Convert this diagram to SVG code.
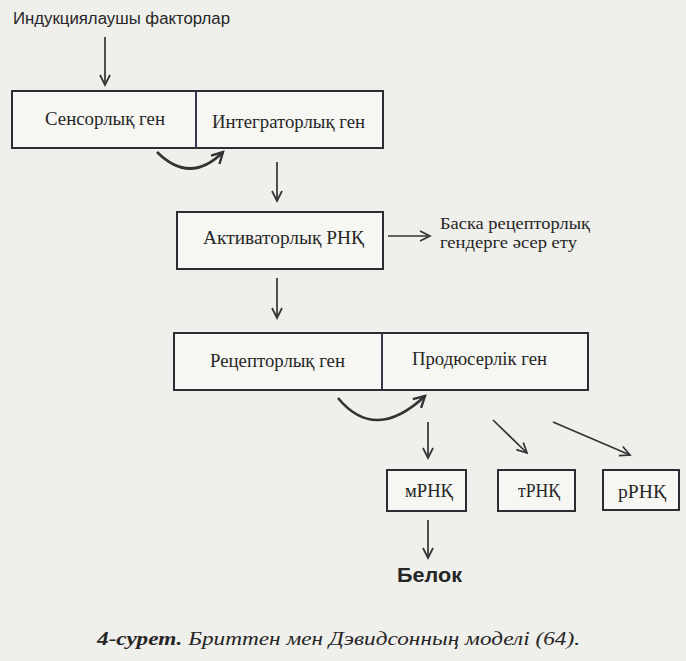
<svg xmlns="http://www.w3.org/2000/svg" width="686" height="661" viewBox="0 0 686 661">
<defs>
<style>
.bg{fill:#efefec}
.box{fill:#f6f6f3;stroke:#2e2b33;stroke-width:2}
.div{stroke:#3e3350;stroke-width:2}
.lbl{font-family:"Liberation Serif","Times New Roman",serif;font-size:18.5px;fill:#262626}
.note{font-family:"Liberation Serif","Times New Roman",serif;font-size:16.5px;fill:#262626}
.sans{font-family:"Liberation Sans",Arial,sans-serif;fill:#262626}
.cap{font-family:"Liberation Serif","Times New Roman",serif;font-style:italic;font-size:19.5px;fill:#262626}
.ln{fill:none;stroke:#333;stroke-width:1.7}
.cv{fill:none;stroke:#333;stroke-width:2.6}
</style>
<marker id="ah" markerUnits="userSpaceOnUse" markerWidth="20" markerHeight="20" refX="0" refY="0" orient="auto" overflow="visible">
<path d="M-10,-5 L0,0 L-10,5" fill="none" stroke="#333" stroke-width="1.7"/>
</marker>
<marker id="ahc" markerUnits="userSpaceOnUse" markerWidth="20" markerHeight="20" refX="0" refY="0" orient="auto" overflow="visible">
<path d="M-11,-6 L0,0 L-11,6" fill="none" stroke="#333" stroke-width="2.4"/>
</marker>
</defs>
<rect class="bg" x="0" y="0" width="686" height="661"/>

<g id="inducers">
<text class="sans" x="13" y="24" font-size="16" textLength="217" lengthAdjust="spacingAndGlyphs">Индукциялаушы факторлар</text>
</g>

<g id="sensor-integrator">
<rect class="box" x="12" y="91" width="371" height="57"/>
<line class="div" x1="196" y1="91" x2="196" y2="148"/>
<text class="lbl" x="45" y="125" textLength="120" lengthAdjust="spacingAndGlyphs">Сенсорлық ген</text>
<text class="lbl" x="212" y="128" textLength="153" lengthAdjust="spacingAndGlyphs">Интеграторлық ген</text>
</g>

<g id="activator">
<rect class="box" x="177" y="212" width="206" height="57"/>
<text class="lbl" x="203" y="244" textLength="161" lengthAdjust="spacingAndGlyphs">Активаторлық РНҚ</text>
</g>

<g id="other-receptors">
<text class="note" x="440" y="229" textLength="150" lengthAdjust="spacingAndGlyphs">Баска рецепторлық</text>
<text class="note" x="440" y="248" textLength="137" lengthAdjust="spacingAndGlyphs">гендерге әсер ету</text>
</g>

<g id="receptor-producer">
<rect class="box" x="174" y="333" width="414" height="57"/>
<line class="div" x1="382" y1="333" x2="382" y2="390"/>
<text class="lbl" x="210" y="367" textLength="135" lengthAdjust="spacingAndGlyphs">Рецепторлық ген</text>
<text class="lbl" x="412" y="365" textLength="135" lengthAdjust="spacingAndGlyphs">Продюсерлік ген</text>
</g>

<g id="mrna">
<rect class="box" x="387" y="470" width="79" height="41"/>
<text class="lbl" x="405" y="497" textLength="48" lengthAdjust="spacingAndGlyphs">мРНҚ</text>
</g>
<g id="trna">
<rect class="box" x="498" y="470" width="77" height="41"/>
<text class="lbl" x="518" y="497" textLength="42" lengthAdjust="spacingAndGlyphs">тРНҚ</text>
</g>
<g id="rrna">
<rect class="box" x="603" y="470" width="76" height="40"/>
<text class="lbl" x="618" y="498" textLength="48" lengthAdjust="spacingAndGlyphs">рРНҚ</text>
</g>

<g id="protein">
<text class="sans" x="397" y="582" font-size="20" font-weight="bold" textLength="65" lengthAdjust="spacingAndGlyphs">Белок</text>
</g>

<g id="connectors">
<line class="ln" x1="105" y1="37" x2="105" y2="85" marker-end="url(#ah)"/>
<path class="cv" d="M157,152 Q190,185 223,152" marker-end="url(#ahc)"/>
<line class="ln" x1="277" y1="162" x2="277" y2="201" marker-end="url(#ah)"/>
<line class="ln" x1="388" y1="236" x2="430" y2="236" marker-end="url(#ah)"/>
<line class="ln" x1="277" y1="278" x2="277" y2="318" marker-end="url(#ah)"/>
<path class="cv" d="M338,398 Q375,443 425,396" marker-end="url(#ahc)"/>
<line class="ln" x1="428" y1="422" x2="428" y2="458" marker-end="url(#ah)"/>
<line class="ln" x1="493" y1="420" x2="527" y2="453" marker-end="url(#ah)"/>
<line class="ln" x1="553" y1="422" x2="630" y2="455" marker-end="url(#ah)"/>
<line class="ln" x1="428" y1="520" x2="428" y2="558" marker-end="url(#ah)"/>
</g>

<g id="caption">
<text class="cap" x="97" y="645" textLength="483" lengthAdjust="spacingAndGlyphs"><tspan font-weight="bold">4-сурет.</tspan> Бриттен мен Дэвидсонның моделі (64).</text>
</g>
</svg>
